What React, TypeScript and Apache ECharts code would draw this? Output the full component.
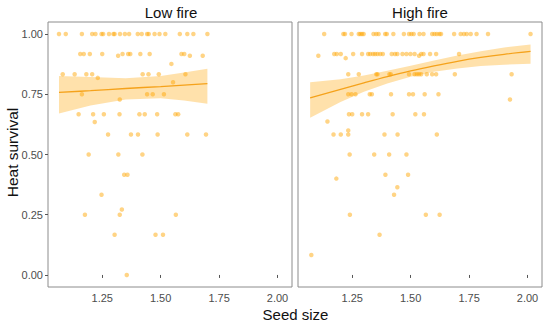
import React, { useEffect, useRef } from "react";
import * as echarts from "echarts";

// ---------- Data ----------
const panelTitles = ["Low fire", "High fire"];
const xTicks = [1.25, 1.5, 1.75, 2.0];
const yTicks = [0, 0.25, 0.5, 0.75, 1.0];

const lowSeed = [
  1.065, 1.094, 1.163, 1.207, 1.221, 1.247, 1.254, 1.279, 1.298, 1.303, 1.326, 1.347, 1.365, 1.402, 1.419, 1.442, 1.449, 1.474, 1.495, 1.52, 1.582, 1.614, 1.64, 1.7,
  1.156, 1.171, 1.197, 1.25, 1.337, 1.361, 1.37, 1.413, 1.453, 1.589, 1.601, 1.318, 1.625, 1.68,
  1.546,
  1.081, 1.132, 1.182, 1.207, 1.423, 1.448, 1.492, 1.606, 1.231, 1.553,
  1.163, 1.442, 1.466, 1.514, 1.325,
  1.149, 1.211, 1.257, 1.324, 1.409, 1.432, 1.485, 1.563, 1.575, 1.218,
  1.275, 1.373, 1.403, 1.487, 1.614, 1.694,
  1.192, 1.319, 1.422,
  1.344, 1.358,
  1.247,
  1.334,
  1.176, 1.325, 1.565,
  1.303, 1.478, 1.51,
  1.355,
];
const lowSurvival = [
  1, 1, 1, 1, 1, 1, 1, 1, 1, 1, 1, 1, 1, 1, 1, 1, 1, 1, 1, 1, 1, 1, 1, 1,
  0.917, 0.917, 0.917, 0.917, 0.917, 0.917, 0.917, 0.917, 0.917, 0.917, 0.917, 0.91, 0.91, 0.91,
  0.876,
  0.833, 0.833, 0.833, 0.833, 0.833, 0.833, 0.833, 0.833, 0.818, 0.8,
  0.75, 0.75, 0.75, 0.75, 0.728,
  0.667, 0.667, 0.667, 0.667, 0.667, 0.667, 0.667, 0.667, 0.667, 0.635,
  0.583, 0.583, 0.583, 0.583, 0.583, 0.583,
  0.5, 0.5, 0.5,
  0.416, 0.416,
  0.333,
  0.272,
  0.25, 0.25, 0.25,
  0.167, 0.167, 0.167,
  0,
];

const highSeed = [
  1.13, 1.212, 1.219, 1.247, 1.278, 1.285, 1.292, 1.299, 1.341, 1.353, 1.363, 1.391, 1.398, 1.426, 1.471, 1.493, 1.503, 1.513, 1.538, 1.555, 1.592, 1.602, 1.612, 1.623, 1.63, 1.686, 1.714, 1.728, 1.74, 1.757, 1.782, 1.831, 2.013,
  1.173, 1.184, 1.201, 1.254, 1.292, 1.318, 1.327, 1.339, 1.348, 1.358, 1.37, 1.381, 1.419, 1.433, 1.443, 1.465, 1.482, 1.499, 1.517, 1.545, 1.555, 1.583, 1.609, 1.707, 1.105, 1.536, 1.222,
  1.233, 1.278, 1.353, 1.358, 1.409, 1.415, 1.493, 1.517, 1.527, 1.536, 1.545, 1.569, 1.592, 1.609, 1.689, 1.932,
  1.233, 1.247, 1.264, 1.325, 1.334, 1.416, 1.493, 1.51, 1.56, 1.619, 1.925,
  1.236, 1.25, 1.292, 1.318, 1.423, 1.52, 1.557, 1.144,
  1.17, 1.201, 1.233, 1.388, 1.444, 1.612, 1.233,
  1.239, 1.344, 1.408, 1.482,
  1.392, 1.489,
  1.182,
  1.443,
  1.429,
  1.24, 1.565, 1.624,
  1.367,
  1.075,
];
const highSurvival = [
  1, 1, 1, 1, 1, 1, 1, 1, 1, 1, 1, 1, 1, 1, 1, 1, 1, 1, 1, 1, 1, 1, 1, 1, 1, 1, 1, 1, 1, 1, 1, 1, 1,
  0.917, 0.917, 0.917, 0.917, 0.917, 0.917, 0.917, 0.917, 0.917, 0.917, 0.917, 0.917, 0.917, 0.917, 0.917, 0.917, 0.917, 0.917, 0.917, 0.917, 0.917, 0.917, 0.917, 0.917, 0.91, 0.91, 0.9,
  0.833, 0.833, 0.833, 0.833, 0.833, 0.833, 0.833, 0.833, 0.833, 0.833, 0.833, 0.833, 0.833, 0.833, 0.833, 0.833,
  0.75, 0.75, 0.75, 0.75, 0.75, 0.75, 0.75, 0.75, 0.75, 0.75, 0.728,
  0.667, 0.667, 0.667, 0.667, 0.667, 0.667, 0.667, 0.637,
  0.583, 0.583, 0.583, 0.583, 0.583, 0.583, 0.6,
  0.5, 0.5, 0.5, 0.5,
  0.416, 0.416,
  0.4,
  0.364,
  0.333,
  0.25, 0.25, 0.25,
  0.167,
  0.083,
];

// Fitted curves with confidence bands
const lowFitX = [1.065, 1.2, 1.35, 1.5, 1.6, 1.7];
const lowFit = [0.758, 0.765, 0.774, 0.782, 0.788, 0.794];
const lowLower = [0.67, 0.703, 0.728, 0.733, 0.724, 0.711];
const lowUpper = [0.826, 0.822, 0.817, 0.826, 0.84, 0.856];

const highFitX = [1.07, 1.2, 1.3, 1.4, 1.5, 1.6, 1.7, 1.8, 1.9, 2.013];
const highFit = [0.735, 0.77, 0.797, 0.823, 0.847, 0.868, 0.887, 0.903, 0.916, 0.928];
const highLower = [0.653, 0.718, 0.76, 0.795, 0.823, 0.843, 0.857, 0.867, 0.873, 0.877];
const highUpper = [0.8, 0.812, 0.828, 0.848, 0.868, 0.89, 0.911, 0.929, 0.944, 0.957];

// ---------- Styling ----------
const FONT = "Liberation Sans";
const POINT_COLOR = "rgba(255,165,0,0.6)";
const LINE_COLOR = "#F5A21B";
const BAND_COLOR = "rgba(255,165,0,0.33)";
const X_MIN = 1.018;
const X_MAX = 2.062;
const Y_MIN = -0.05;
const Y_MAX = 1.05;

function bandSeries(idx: number, xs: number[], lo: number[], hi: number[]) {
  return {
    type: "custom",
    xAxisIndex: idx,
    yAxisIndex: idx,
    silent: true,
    z: 1,
    data: xs.map((x, i) => [x, lo[i], hi[i]]),
    renderItem: (params: any, api: any) => {
      if (params.dataIndex !== 0) return null;
      const top = xs.map((x, i) => api.coord([x, hi[i]]));
      const bottom = xs.map((x, i) => api.coord([x, lo[i]])).reverse();
      return {
        type: "polygon",
        shape: { points: top.concat(bottom), smooth: 0 },
        style: { fill: BAND_COLOR, stroke: "none" },
      };
    },
  };
}

export default function App() {
  const ref = useRef<HTMLDivElement>(null);

  useEffect(() => {
    if (!ref.current) return;
    const chart = echarts.init(ref.current, undefined, { renderer: "svg" });

    const grids = [
      { left: 48, top: 22, width: 244, height: 265 },
      { left: 298, top: 22, width: 244, height: 265 },
    ].map((g) => ({
      ...g,
      show: true,
      borderColor: "#8c8c8c",
      borderWidth: 1,
      backgroundColor: "#fff",
      containLabel: false,
    }));

    const xAxes = [0, 1].map((i) => ({
      type: "value",
      gridIndex: i,
      min: X_MIN,
      max: X_MAX,
      axisLine: { show: false },
      splitLine: { show: false },
      axisTick: {
        show: true,
        length: 3,
        customValues: xTicks,
        lineStyle: { color: "#555" },
      },
      axisLabel: {
        customValues: xTicks,
        formatter: (v: number) => v.toFixed(2),
        color: "#4d4d4d",
        fontFamily: FONT,
        fontSize: 11,
        margin: 5,
      },
    }));

    const yAxes = [0, 1].map((i) => ({
      type: "value",
      gridIndex: i,
      min: Y_MIN,
      max: Y_MAX,
      axisLine: { show: false },
      splitLine: { show: false },
      axisTick: {
        show: i === 0,
        length: 3,
        customValues: yTicks,
        lineStyle: { color: "#555" },
      },
      axisLabel: {
        show: i === 0,
        customValues: yTicks,
        formatter: (v: number) => v.toFixed(2),
        color: "#4d4d4d",
        fontFamily: FONT,
        fontSize: 11,
        margin: 5,
      },
    }));

    const scatter = (idx: number, xs: number[], ys: number[]) => ({
      type: "scatter",
      xAxisIndex: idx,
      yAxisIndex: idx,
      symbolSize: 4.5,
      z: 2,
      itemStyle: { color: POINT_COLOR },
      data: xs.map((x, i) => [x, ys[i]]),
    });

    const fitLine = (idx: number, xs: number[], ys: number[]) => ({
      type: "line",
      xAxisIndex: idx,
      yAxisIndex: idx,
      smooth: 0.4,
      showSymbol: false,
      z: 3,
      lineStyle: { color: LINE_COLOR, width: 1.3 },
      data: xs.map((x, i) => [x, ys[i]]),
    });

    const textEl = (text: string, x: number, y: number, size: number, rotation = 0) => ({
      type: "text",
      x,
      y,
      rotation,
      style: {
        text,
        fontFamily: FONT,
        fontSize: size,
        fill: "#111",
        align: "center",
        verticalAlign: "middle",
      },
    });

    chart.setOption({
      animation: false,
      backgroundColor: "#fff",
      textStyle: { fontFamily: FONT },
      graphic: [
        textEl(panelTitles[0], 171, 12, 15),
        textEl(panelTitles[1], 420, 12, 15),
        textEl("Heat survival", 12, 152.5, 15.5, Math.PI / 2),
        textEl("Seed size", 295.5, 314.5, 15),
      ],
      grid: grids,
      xAxis: xAxes,
      yAxis: yAxes,
      series: [
        bandSeries(0, lowFitX, lowLower, lowUpper),
        bandSeries(1, highFitX, highLower, highUpper),
        scatter(0, lowSeed, lowSurvival),
        scatter(1, highSeed, highSurvival),
        fitLine(0, lowFitX, lowFit),
        fitLine(1, highFitX, highFit),
      ],
    });

    return () => chart.dispose();
  }, []);

  return <div ref={ref} style={{ width: 550, height: 327, position: "absolute", left: 0, top: 0 }} />;
}
